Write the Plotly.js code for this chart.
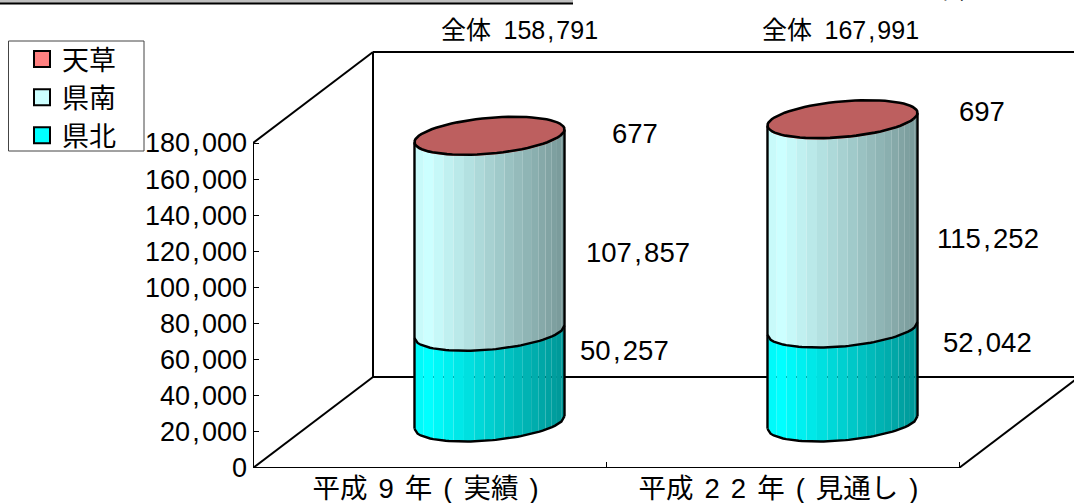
<!DOCTYPE html>
<html>
<head>
<meta charset="utf-8">
<script src="https://cdn.plot.ly/plotly-3.0.1.min.js"></script>
<style>html,body{margin:0;padding:0;background:#fff;overflow:hidden}</style>
</head>
<body>
<div id="chart" style="width:1074px;height:503px"></div>
<script>
// Population by region, stacked cylinders on a pseudo-3D floor
const categories = ['平成 9 年 ( 実績 )', '平成 2 2 年 ( 見通し )'];
const kenpoku = [50257, 52042];
const kennan = [107857, 115252];
const amakusa = [677, 697];
const totals = [158791, 167991];
const yTicks = [0, 20000, 40000, 60000, 80000, 100000, 120000, 140000, 160000, 180000];
const seriesNames = ['県北', '県南', '天草'];
const seriesValues = [kenpoku, kennan, amakusa];

// Side shading runs from the light colour to the dark colour across the cylinder
const lightColors = [[0, 255, 255], [204, 255, 255], [255, 128, 128]];
const darkColors = [[0, 150, 150], [120, 152, 152], [150, 76, 76]];
const legendColors = ['#00FFFF', '#CCFFFF', '#FF8080'];
const capColor = '#BD5F5F';

// Page frame in pixels
const W = 1074, H = 503, L = 253, B = 35;
const plotW = W - L, plotH = H - B;
const catPx = 353;
const valuePerPx = 180000 / 325;

// Oblique depth of the box, in axis units
const depthX = 120 / catPx;
const depthY = 91 * valuePerPx;
const radiusX = 70.7 / catPx;
const radiusDepth = 0.209;
const skew = Math.atan2(radiusDepth * depthX, radiusX);

function ellipsePoint(i, t) {
  return [i + 0.5 + depthX / 2 + radiusX * Math.cos(t) + radiusDepth * depthX * Math.sin(t),
          depthY / 2 + radiusDepth * depthY * Math.sin(t)];
}
// Point on the front half of the rim, f runs 0..1 from left to right
function rim(i, value, f) {
  const p = ellipsePoint(i, -Math.acos(2 * f - 1) + skew);
  return [p[0], p[1] + value];
}
function arc(i, value, f0, f1, n) {
  const xs = [], ys = [];
  for (let k = 0; k <= n; k++) {
    const p = rim(i, value, f0 + (f1 - f0) * k / n);
    xs.push(p[0]); ys.push(p[1]);
  }
  return [xs, ys];
}

const traces = [];
function line(xs, ys, width) {
  traces.push({x: xs, y: ys, mode: 'lines', line: {color: '#000', width: width || 2},
               showlegend: false, hoverinfo: 'skip', cliponaxis: false});
}

// Box edges
line([depthX, depthX, 3], [depthY + 180000, depthY, depthY]);
line([depthX, 3], [depthY + 180000, depthY + 180000]);
line([0, depthX, depthX], [180000, depthY + 180000, depthY + 180000]);
line([0, depthX], [0, depthY]);
line([2, 2 + depthX], [0, depthY]);

// Strip boundaries across the visible side of a cylinder
const strips = 18;
const stripEdges = [];
for (let k = 0; k <= strips; k++) {
  const a0 = Math.PI / 3, a1 = Math.PI / 3 + Math.PI * 0.58;
  const a = a0 + (k / strips) * (a1 - a0);
  stripEdges.push((Math.cos(a0) - Math.cos(a)) / (Math.cos(a0) - Math.cos(a1)));
}
function shade(s, f) {
  const g = f < 0.1 ? 0.93 + 0.7 * f : 1 - (f - 0.1) / 0.9;
  const c = lightColors[s].map((v, j) => Math.round(darkColors[s][j] + (v - darkColors[s][j]) * Math.max(0, g)));
  return 'rgb(' + c.join(',') + ')';
}

const edgeWidth = 2.4;
categories.forEach((cat, i) => {
  // Shaded sides of every band first, so the outlines stay on top
  let base = 0;
  seriesValues.forEach((vals, s) => {
    const top = base + vals[i];
    for (let k = 0; k < strips; k++) {
      const f0 = stripEdges[k], f1 = stripEdges[k + 1];
      const low = arc(i, base, f0, f1, 3), high = arc(i, top, f1, f0, 3);
      traces.push({x: low[0].concat(high[0]), y: low[1].concat(high[1]), mode: 'lines',
                   fill: 'toself', fillcolor: shade(s, (f0 + f1) / 2), line: {width: 0},
                   showlegend: false, hoverinfo: 'skip', cliponaxis: false});
    }
    base = top;
  });
  // Bottom edge and the rim between bands
  const foot = arc(i, 0, 0, 1, 48);
  line(foot[0], foot[1], edgeWidth);
  const seam = arc(i, seriesValues[0][i], 0, 1, 48);
  line(seam[0], seam[1], edgeWidth);
  // Silhouette sides
  const a = rim(i, 0, 0), b = rim(i, base, 0), c = rim(i, 0, 1), d = rim(i, base, 1);
  line([a[0], b[0]], [a[1], b[1]], edgeWidth);
  line([c[0], d[0]], [c[1], d[1]], edgeWidth);
  // Top cap
  const capX = [], capY = [];
  for (let k = 0; k <= 72; k++) {
    const p = ellipsePoint(i, k / 72 * 2 * Math.PI);
    capX.push(p[0]); capY.push(p[1] + base);
  }
  traces.push({x: capX, y: capY, mode: 'lines', fill: 'toself', fillcolor: capColor,
               line: {color: '#000', width: 2.6}, showlegend: false, hoverinfo: 'skip', cliponaxis: false});
});

// Axis line on the left and the front floor edge
line([0, 0], [0, 180000]);
line([0, 2], [0, 0]);

// Legend entries, topmost series first
[2, 1, 0].forEach(s => {
  traces.push({x: [null], y: [null], mode: 'markers', name: seriesNames[s],
               marker: {symbol: 'square', size: 16, color: legendColors[s], line: {color: '#000', width: 2}}});
});

// Digits are set with the comma spaced out
const sep = '\u200A';
const fmt = v => String(v).replace(/\B(?=(\d{3})+$)/g, sep + ',' + sep);
const widen = s => s.replace(/ /g, '\u2009\u2009');
const font = '"Liberation Sans", Arial, "Noto Sans CJK JP", sans-serif';
const px = x => (x - L) / plotW;
const py = y => (plotH - y) / plotH;

const labelSpots = {
  kennan: [[638, 252], [988, 238]],
  kenpoku: [[624, 350], [987, 342]],
  amakusa: [[635, 133], [982, 111]],
  total: [[519, 30], [840, 30]]
};
const annotations = [];
function label(text, spot, size) {
  annotations.push({text: text, xref: 'paper', yref: 'paper', x: px(spot[0]), y: py(spot[1]),
                    showarrow: false, xanchor: 'center', yanchor: 'middle',
                    font: {family: font, size: size, color: '#000'}});
}
kenpoku.forEach((v, i) => label(fmt(v), labelSpots.kenpoku[i], 27.5));
kennan.forEach((v, i) => label(fmt(v), labelSpots.kennan[i], 27.5));
amakusa.forEach((v, i) => label(fmt(v), labelSpots.amakusa[i], 27.5));
totals.forEach((v, i) => label('全体\u2002' + fmt(v), labelSpots.total[i], 25));
annotations.push({text: '（単位：人）', xref: 'paper', yref: 'paper', x: px(980), y: py(5),
                  showarrow: false, xanchor: 'center', yanchor: 'bottom',
                  font: {family: font, size: 23, color: '#000'}});

const layout = {
  width: W, height: H,
  margin: {l: L, r: 0, t: 0, b: B, pad: 0},
  paper_bgcolor: '#fff', plot_bgcolor: 'rgba(0,0,0,0)',
  font: {family: font, color: '#000'},
  xaxis: {range: [0, plotW / catPx], showgrid: false, zeroline: false, showline: false,
          tickmode: 'array', tickvals: [0.5, 1.5], ticktext: categories.map(widen), ticks: '',
          ticklabelstandoff: 1, ticklabelshift: -4,
          tickfont: {family: font, size: 27.5, color: '#000'},
          minor: {tickmode: 'array', tickvals: [1, 2], ticks: 'inside', ticklen: 6, tickwidth: 1, tickcolor: '#000', showgrid: false}},
  yaxis: {range: [0, plotH * valuePerPx], showgrid: false, zeroline: false, showline: false,
          tickmode: 'array', tickvals: yTicks, ticktext: yTicks.map(fmt),
          ticks: 'inside', ticklen: 6, tickwidth: 1, tickcolor: '#000', ticklabelstandoff: 5,
          tickfont: {family: font, size: 27, color: '#000'}},
  legend: {x: px(22), y: py(35), xanchor: 'left', yanchor: 'top', bgcolor: 'rgba(0,0,0,0)',
           borderwidth: 0, traceorder: 'normal',
           font: {family: font, size: 27, color: '#000'},
           itemclick: false, itemdoubleclick: false},
  shapes: [
    {type: 'rect', xref: 'paper', yref: 'paper', x0: px(8.5), x1: px(144), y0: py(41), y1: py(151),
     line: {color: '#444', width: 1}, fillcolor: '#fff', layer: 'below'},
    {type: 'rect', xref: 'paper', yref: 'paper', x0: px(0), x1: px(573), y0: py(0), y1: py(3),
     line: {width: 0}, fillcolor: '#C0C0C0', layer: 'below'},
    {type: 'line', xref: 'paper', yref: 'paper', x0: px(0), x1: px(573), y0: py(3.5), y1: py(3.5),
     line: {color: '#000', width: 2}}
  ],
  annotations: annotations,
  showlegend: true
};
Plotly.newPlot('chart', traces, layout, {displayModeBar: false, staticPlot: true});
</script>
</body>
</html>
